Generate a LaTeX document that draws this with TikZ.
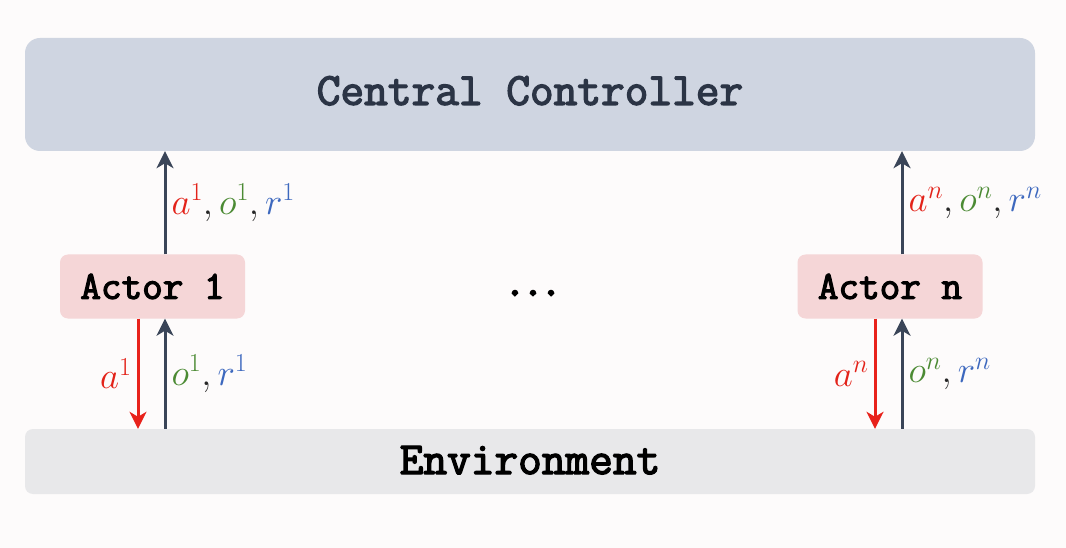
\RequirePackage{fix-cm}
\documentclass[tikz,border=0pt]{standalone}
\usepackage{fontspec}
\newfontfamily\codefont{Latin Modern Mono}[FakeBold=3]
\newfontfamily\dotfont{Latin Modern Mono}[FakeBold=7]
\usetikzlibrary{arrows.meta}
\definecolor{bgc}{HTML}{FDFBFB}
\definecolor{ccfill}{HTML}{CFD5E1}
\definecolor{cctext}{HTML}{2B3445}
\definecolor{actfill}{HTML}{F5D6D7}
\definecolor{envfill}{HTML}{E8E8EA}
\definecolor{arrdark}{HTML}{3A4558}
\definecolor{arrred}{HTML}{E8221B}
\definecolor{lblred}{HTML}{E32219}
\definecolor{lblgreen}{HTML}{4B8A33}
\definecolor{lblblue}{HTML}{3D68BE}
\newcommand{\ra}[1]{\textcolor{lblred}{a^{#1}}}
\newcommand{\go}[1]{\textcolor{lblgreen}{o^{#1}}}
\newcommand{\br}[1]{\textcolor{lblblue}{r^{#1}}}
\begin{document}
\begin{tikzpicture}[x=1pt,y=-1pt,
  bigbox/.style={fill=ccfill, draw=none, rounded corners=15pt, minimum width=1010pt, minimum height=113pt, inner sep=0pt,
     font=\codefont\fontsize{46}{48}\selectfont, text=cctext, text depth=8pt},
  envbox/.style={fill=envfill, draw=none, rounded corners=8pt, minimum width=1010pt, minimum height=65pt, inner sep=0pt,
     font=\codefont\fontsize{46}{48}\selectfont, text=black, text depth=3pt},
  actbox/.style={fill=actfill, draw=none, rounded corners=8pt, minimum width=185pt, minimum height=64pt, inner sep=0pt,
     font=\codefont\fontsize{40}{42}\selectfont, text=black},
  darr/.style={draw=arrdark, line width=3pt, -{Stealth[length=17pt,width=17pt,inset=5pt]}},
  rarr/.style={draw=arrred, line width=3pt, -{Stealth[length=17pt,width=17pt,inset=5pt]}},
  lbl/.style={font=\fontsize{37}{40}\selectfont, text=black!85, inner sep=5pt},
]
\useasboundingbox[fill=bgc] (0,0) rectangle (1066,548);
\node[bigbox] (cc) at (530,94.5) {Central Controller};
\node[envbox] (env) at (530,461.5) {Environment};
\node[actbox] (a1) at (152.5,286.5) {Actor 1};
\node[actbox] (an) at (890,286.5) {Actor n};
\node[font=\dotfont\fontsize{35}{36}\selectfont, anchor=base, inner sep=0pt] (dots) at (533,295) {...};
\coordinate (u1) at (165,0);
\coordinate (d1) at (138,0);
\coordinate (un) at (902,0);
\coordinate (dn) at (875,0);
% actor 1
\draw[darr] (a1.north -| u1) -- node[lbl, right] {$\ra{1},\go{1},\br{1}$} (cc.south -| u1);
\draw[rarr] (a1.south -| d1) -- node[lbl, left] {$\ra{1}$} (env.north -| d1);
\draw[darr] (env.north -| u1) -- node[lbl, right] {$\go{1},\br{1}$} (a1.south -| u1);
% actor n
\draw[darr] (an.north -| un) -- node[lbl, right] {$\ra{n},\go{n},\br{n}$} (cc.south -| un);
\draw[rarr] (an.south -| dn) -- node[lbl, left] {$\ra{n}$} (env.north -| dn);
\draw[darr] (env.north -| un) -- node[lbl, right] {$\go{n},\br{n}$} (an.south -| un);
\end{tikzpicture}
\end{document}
